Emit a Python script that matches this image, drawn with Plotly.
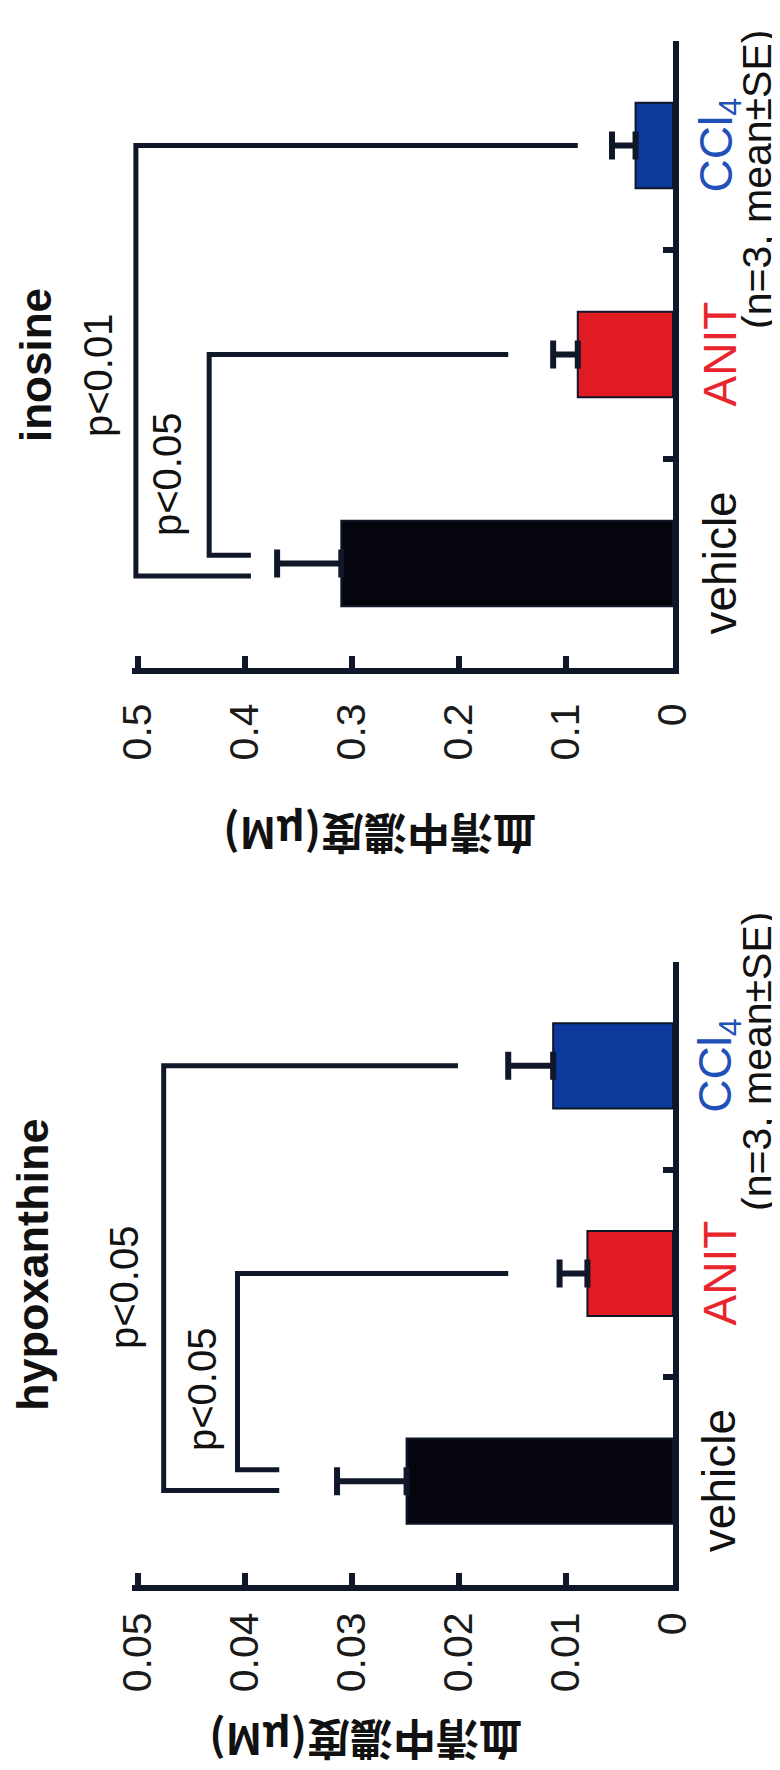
import plotly.graph_objects as go

W, H = 780, 1770

# ---------------- data ----------------
categories = ["vehicle", "ANIT", "CCl4"]
cat_labels = ["vehicle", "ANIT", "CCl<sub>4</sub>"]
cat_pos = [0, 1, 2]

ino_mean = [0.310, 0.089, 0.035]
ino_se = [0.060, 0.023, 0.022]
hyp_mean = [0.0249, 0.0080, 0.0112]
hyp_se = [0.0065, 0.0026, 0.0042]

ino_tickvals = [0, 0.1, 0.2, 0.3, 0.4, 0.5]
ino_ticktext = ["0", "0.1", "0.2", "0.3", "0.4", "0.5"]
hyp_tickvals = [0, 0.01, 0.02, 0.03, 0.04, 0.05]
hyp_ticktext = ["0", "0.01", "0.02", "0.03", "0.04", "0.05"]
cat_tickvals = [0.5, 1.5, 2.5]

# significance brackets: vehicle arm offset, other group, bracket level, arm ends, label
ino_br_other = [1, 2]
ino_br_off = [0.04, -0.06]
ino_br_level = [0.4335, 0.502]
ino_br_vend = [0.3945, 0.3945]
ino_br_oend = [0.154, 0.089]
ino_br_label = ["p<0.05", "p<0.01"]

hyp_br_other = [1, 2]
hyp_br_off = [0.055, -0.045]
hyp_br_level = [0.0407, 0.0476]
hyp_br_vend = [0.0368, 0.0368]
hyp_br_oend = [0.0154, 0.0201]
hyp_br_label = ["p<0.05", "p<0.05"]

# ---------------- styles ----------------
LINE = "#0f1729"
BAR_COLORS = ["#05050d", "#e01b22", "#0b3a9c"]
LABEL_COLORS = ["#111111", "#e8242c", "#2050b8"]
FONT = "Liberation Sans, Arial, sans-serif"
CJK = "Noto Sans CJK JP, sans-serif"


def px(x):
    return x / W


def py(y):
    return 1 - y / H


fig = go.Figure()


def add_panel(xa, ya, mean, se, br_other, br_off, br_level, br_vend, br_oend):
    fig.add_trace(go.Bar(
        x=mean, y=cat_pos, orientation="h", width=0.41,
        marker=dict(color=BAR_COLORS, line=dict(color=LINE, width=2)),
        error_x=dict(type="data", array=se, arrayminus=[0] * len(se),
                     symmetric=False, thickness=6, width=14, color=LINE),
        xaxis=xa, yaxis=ya, showlegend=False, hoverinfo="skip"))
    xs, ys = [], []
    for o, off, lv, ve, oe in zip(br_other, br_off, br_level, br_vend, br_oend):
        xs += [ve, lv, lv, oe, None]
        ys += [cat_pos[0] + off, cat_pos[0] + off, cat_pos[o], cat_pos[o], None]
    fig.add_trace(go.Scatter(
        x=xs, y=ys, mode="lines", line=dict(color=LINE, width=5),
        xaxis=xa, yaxis=ya, showlegend=False, hoverinfo="skip"))


add_panel("x", "y", ino_mean, ino_se, ino_br_other, ino_br_off,
          ino_br_level, ino_br_vend, ino_br_oend)
add_panel("x2", "y2", hyp_mean, hyp_se, hyp_br_other, hyp_br_off,
          hyp_br_level, hyp_br_vend, hyp_br_oend)

xdom = [px(123.6), px(665)]

common_x = dict(
    domain=xdom, showline=True, linewidth=6, linecolor=LINE,
    ticks="inside", ticklen=12, tickwidth=6, tickcolor=LINE,
    tickangle=-90, showgrid=False, zeroline=False, automargin=False,
    tickfont=dict(family=FONT, size=41, color="#1a1a1a"),
)
common_y = dict(
    range=[-0.5, 2.5], side="right", showline=True, linewidth=6,
    linecolor=LINE, ticks="inside", ticklen=10, tickwidth=6,
    tickcolor=LINE, tickvals=cat_tickvals, showticklabels=False,
    showgrid=False, zeroline=False, automargin=False,
)

fig.update_layout(
    template="none",
    width=W, height=H, margin=dict(l=0, r=0, t=0, b=0, pad=0),
    paper_bgcolor="white", plot_bgcolor="white", showlegend=False,
    xaxis=dict(common_x, range=[0.506, 0], anchor="y",
               tickvals=ino_tickvals, ticktext=ino_ticktext,
               ticklabelstandoff=13),
    yaxis=dict(common_y, domain=[py(660), py(33)], anchor="x"),
    xaxis2=dict(common_x, range=[0.0506, 0], anchor="y2",
                tickvals=hyp_tickvals, ticktext=hyp_ticktext,
                ticklabelstandoff=5),
    yaxis2=dict(common_y, domain=[py(1577), py(954)], anchor="x2"),
)

ann = []


def text(x, y, s, size, color="#111111", angle=-90, family=FONT,
         xref="paper", yref="paper"):
    ann.append(dict(x=x, y=y, xref=xref, yref=yref, text=s, showarrow=False,
                    textangle=angle, xanchor="center", yanchor="middle",
                    font=dict(family=family, size=size, color=color)))


# panel titles
text(px(27), py(357), "<b>inosine</b>", 44)
text(px(24), py(1257), "<b>hypoxanthine</b>", 45)

# p-value labels
text(px(90), py(368), ino_br_label[1], 40)
text(px(159), py(467), ino_br_label[0], 40)
text(px(116), py(1280), hyp_br_label[1], 40)
text(px(194), py(1382), hyp_br_label[0], 40)

# category labels
for yref in ["y", "y2"]:
    for c, lab, col in zip(cat_pos, cat_labels, LABEL_COLORS):
        text(px(711), c, lab, 46, color=col, yref=yref)

# n note
text(px(749), py(172), "(n=3, mean±SE)", 41)
text(px(749), py(1054), "(n=3, mean±SE)", 41)

# value axis titles (upside down)
text(px(372), py(828), "<b>血清中濃度(μM)</b>", 43, angle=180, family=CJK)
text(px(358), py(1734), "<b>血清中濃度(μM)</b>", 43, angle=180, family=CJK)

fig.update_layout(annotations=ann)

fig.write_html("out.html")
